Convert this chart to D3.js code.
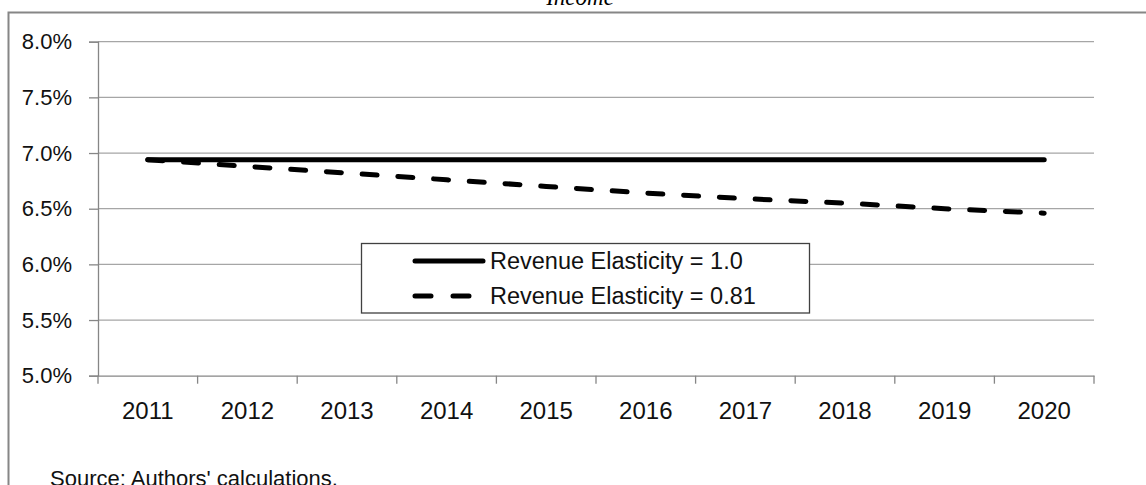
<!DOCTYPE html>
<html><head><meta charset="utf-8">
<script src="https://cdn.jsdelivr.net/npm/d3@7"></script>
<style>body{margin:0;background:#fff;} svg{display:block;}</style>
</head><body>
<svg id="chart" width="1146" height="485"></svg>
<script>
const years = ["2011","2012","2013","2014","2015","2016","2017","2018","2019","2020"];
const elasticity100 = [6.94,6.94,6.94,6.94,6.94,6.94,6.94,6.94,6.94,6.94];
const elasticity081 = [6.94,6.88,6.82,6.76,6.70,6.64,6.59,6.55,6.50,6.46];
const yTicks = [5.0,5.5,6.0,6.5,7.0,7.5,8.0];
const seriesNames = ["Revenue Elasticity = 1.0","Revenue Elasticity = 0.81"];
const titleText = "Income";
const sourceText = "Source: Authors' calculations.";

(function () {
const svg = d3.select("#chart");
const font = "'Liberation Sans', Arial, sans-serif";
const textColor = "#111";
const pLeft = 98, pRight = 1094, pTop = 41.7, pBottom = 375.7;

const x = d3.scaleBand().domain(years).range([pLeft, pRight]).padding(0);
const y = d3.scaleLinear().domain([5, 8]).range([pBottom, pTop]);
const cx = d => x(d) + x.bandwidth() / 2;

// outer frame
svg.append("rect").attr("x", 8.5).attr("y", 12.5).attr("width", 1200).attr("height", 600)
  .attr("fill", "none").attr("stroke", "#868686").attr("stroke-width", 2);

// title (clipped at top, as in the reference)
svg.append("text").attr("x", 580).attr("y", 5).attr("text-anchor", "middle")
  .attr("font-family", "'Liberation Serif', 'Times New Roman', serif").attr("font-style", "italic")
  .attr("font-size", 23).attr("fill", "#000").text(titleText);

// gridlines
svg.append("g").selectAll("line").data(yTicks.filter(t => t > 5)).join("line")
  .attr("x1", pLeft).attr("x2", pRight).attr("y1", d => y(d)).attr("y2", d => y(d))
  .attr("stroke", "#a6a6a6").attr("stroke-width", 1.3);

// y axis
const yAxis = svg.append("g").attr("transform", `translate(${pLeft},0)`)
  .call(d3.axisLeft(y).tickValues(yTicks).tickSize(9).tickPadding(17).tickFormat(d => d.toFixed(1) + "%"));
yAxis.select(".domain").attr("stroke", "#868686").attr("stroke-width", 1.3);
yAxis.selectAll(".tick line").attr("stroke", "#868686").attr("stroke-width", 1.3);
yAxis.selectAll("text").attr("font-family", font).attr("font-size", 22).attr("fill", textColor);

// x axis
const xAxis = svg.append("g").attr("transform", `translate(0,${pBottom})`)
  .call(d3.axisBottom(x).tickSize(0).tickPadding(26));
xAxis.select(".domain").attr("stroke", "#868686").attr("stroke-width", 1.3);
xAxis.selectAll("text").attr("font-family", font).attr("font-size", 24).attr("fill", textColor);
svg.append("g").selectAll("line").data(years.map(d => x(d)).concat([pRight])).join("line")
  .attr("x1", d => d).attr("x2", d => d).attr("y1", pBottom).attr("y2", pBottom + 8)
  .attr("stroke", "#868686").attr("stroke-width", 1.3);

// lines
const line = d3.line().x((d, i) => cx(years[i])).y(d => y(d));
svg.append("path").datum(elasticity100).attr("d", line).attr("fill", "none")
  .attr("stroke", "#000").attr("stroke-width", 5).attr("stroke-linecap", "round");
svg.append("path").datum(elasticity081).attr("d", line).attr("fill", "none")
  .attr("stroke", "#000").attr("stroke-width", 5).attr("stroke-linecap", "round")
  .attr("stroke-dasharray", "15,20.8");

// legend
const lg = svg.append("g");
lg.append("rect").attr("x", 361.5).attr("y", 243.5).attr("width", 448).attr("height", 69.5)
  .attr("fill", "#fff").attr("stroke", "#404040").attr("stroke-width", 1.3);
const ly = [261, 296];
lg.append("line").attr("x1", 415).attr("x2", 483).attr("y1", ly[0]).attr("y2", ly[0])
  .attr("stroke", "#000").attr("stroke-width", 5).attr("stroke-linecap", "round");
lg.append("line").attr("x1", 415).attr("x2", 473).attr("y1", ly[1]).attr("y2", ly[1])
  .attr("stroke", "#000").attr("stroke-width", 5).attr("stroke-linecap", "round")
  .attr("stroke-dasharray", "16,22");
lg.selectAll("text").data(seriesNames).join("text")
  .attr("x", 490).attr("y", (d, i) => ly[i]).attr("dy", "0.35em")
  .attr("font-family", font).attr("font-size", 23.5).attr("fill", textColor).text(d => d);

// source (clipped at bottom, as in the reference)
svg.append("text").attr("x", 50).attr("y", 486).attr("font-family", font)
  .attr("font-size", 22).attr("fill", textColor).text(sourceText);
})();
</script>
</body></html>
